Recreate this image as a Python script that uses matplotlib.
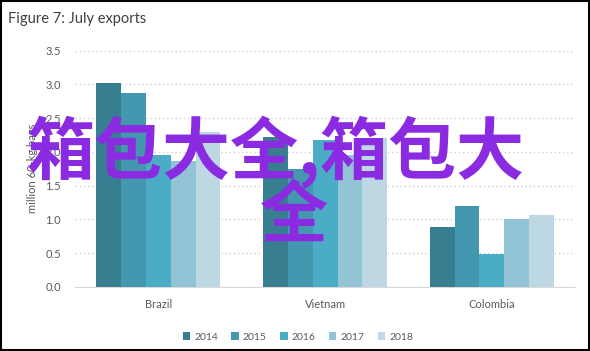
import matplotlib
matplotlib.use("Agg")
import matplotlib.pyplot as plt
from matplotlib.patches import Rectangle
import numpy as np

# data (million 60-kg bags)
countries = ["Brazil", "Vietnam", "Colombia"]
years = ["2014", "2015", "2016", "2017", "2018"]
v2014 = [3.02, 2.22, 0.89]
v2015 = [2.87, 1.74, 1.20]
v2016 = [1.95, 2.18, 0.49]
v2017 = [1.87, 1.95, 1.00]
v2018 = [2.30, 2.21, 1.07]
series = [v2014, v2015, v2016, v2017, v2018]
colors = ["#377e91", "#4397ae", "#4bacc6", "#93c4d6", "#bdd8e3"]

plt.rcParams["font.family"] = ["Lato", "DejaVu Sans"]
txt = "#595959"

fig = plt.figure(figsize=(5.9, 3.51), dpi=100)
ax = fig.add_axes([0.127, 0.183, 0.848, 0.673])

x = np.arange(len(countries))
w = 0.149
for i, (vals, c) in enumerate(zip(series, colors)):
    ax.bar(x + (i - 2) * w, vals, width=w, color=c, label=years[i], zorder=3)

ax.set_xlim(-0.5, 2.5)
ax.set_ylim(0, 3.5)
ax.set_yticks(np.arange(0, 3.51, 0.5))
ax.set_yticklabels([f"{t:.1f}" for t in np.arange(0, 3.51, 0.5)])
ax.set_xticks(x)
ax.set_xticklabels(countries)
ax.tick_params(axis="both", length=0, labelsize=8, colors=txt)
ax.tick_params(axis="y", pad=10)
ax.tick_params(axis="x", pad=9)
ax.yaxis.grid(True, linestyle=(0, (1, 2)), color="#d0d0d0", linewidth=1, zorder=0)
for s in ["top", "right", "left"]:
    ax.spines[s].set_visible(False)
ax.spines["bottom"].set_color("#d9d9d9")
ax.set_ylabel("million 60-kg bags", fontsize=8, color=txt, labelpad=5)

fig.text(0.013, 0.947, "Figure 7: July exports", fontsize=10.5, color="#404040",
         va="center", ha="left")

leg = fig.legend(loc="center", bbox_to_anchor=(0.505, 0.04), ncol=5, frameon=False,
                 fontsize=7.5, handlelength=0.7, handleheight=0.7, handletextpad=0.4,
                 columnspacing=1.3, labelcolor=txt)

# watermark text over the chart
wm = dict(fontsize=49, color="#8a2be2", family=["Noto Sans CJK SC", "DejaVu Sans"],
          weight="bold", zorder=10)
fig.text(0.045, 0.565, "箱包大全,箱包大", ha="left", va="center", **wm)
fig.text(0.498, 0.38, "全", ha="center", va="center", **wm)

fig.add_artist(Rectangle((0.001, 0.002), 0.997, 0.995, transform=fig.transFigure,
                         fill=False, edgecolor="black", linewidth=1.5))

fig.savefig("out.png", dpi=100)
